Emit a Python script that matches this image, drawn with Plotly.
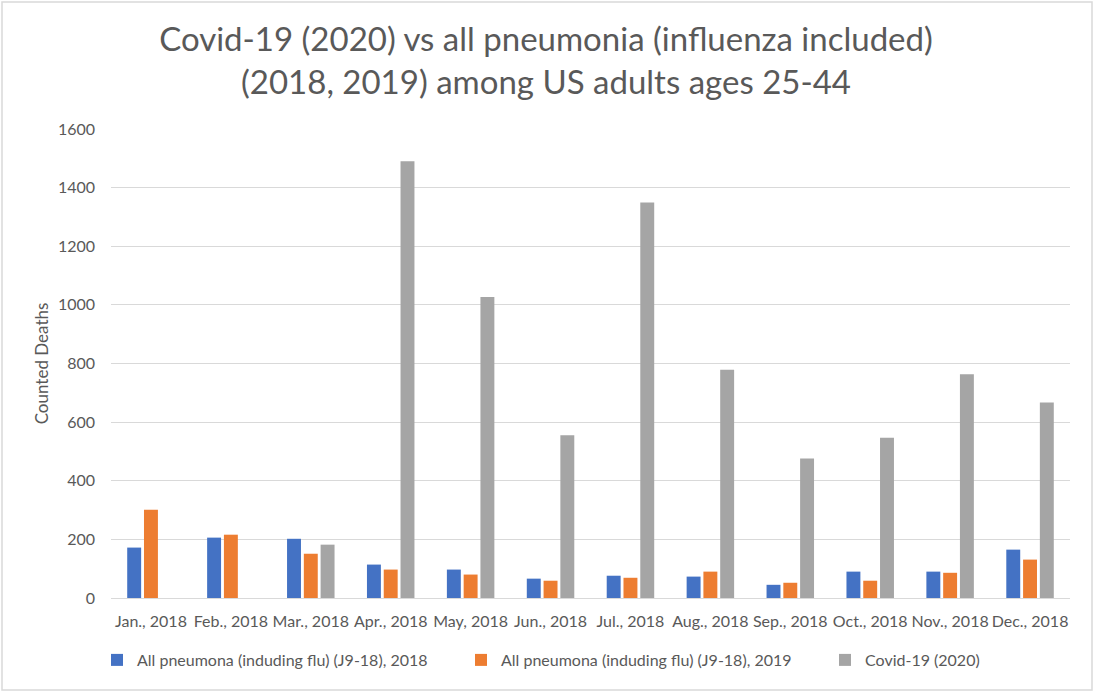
import plotly.graph_objects as go

months = ["Jan., 2018", "Feb., 2018", "Mar., 2018", "Apr., 2018", "May, 2018", "Jun., 2018",
          "Jul., 2018", "Aug., 2018", "Sep., 2018", "Oct., 2018", "Nov., 2018", "Dec., 2018"]
pneu_2018 = [172, 206, 202, 114, 97, 66, 76, 73, 45, 90, 90, 165]
pneu_2019 = [301, 216, 151, 97, 80, 59, 69, 90, 52, 59, 86, 131]
covid_2020 = [None, None, 182, 1490, 1027, 555, 1349, 779, 476, 547, 763, 667]

names = ["All pneumona (induding flu) (J9-18), 2018",
         "All pneumona (induding flu) (J9-18), 2019",
         "Covid-19 (2020)"]
colors = ["#4472C4", "#ED7D31", "#A5A5A5"]

# plot area in pixels (1094 x 692 page)
W, H = 1094, 692
L, R, T, B = 111, 24, 129, 94
pw, ph = W - L - R, H - T - B

def px_x(p):
    return (p - L) / pw

def px_y(p):
    return (H - B - p) / ph

legend_ids = ["legend", "legend2", "legend3"]
legend_x = [97, 461, 825]

fig = go.Figure()
for vals, nm, c, lg in zip([pneu_2018, pneu_2019, covid_2020], names, colors, legend_ids):
    fig.add_trace(go.Bar(x=months, y=vals, name=nm, legend=lg,
                         marker=dict(color=c, line=dict(width=0))))

font = "Lato, 'Open Sans', sans-serif"
grey = "#595959"
fig.update_layout(
    width=W, height=H,
    margin=dict(l=L, r=R, t=T, b=B),
    paper_bgcolor="white", plot_bgcolor="white",
    barmode="group", bargap=0.37, bargroupgap=0.17,
    font=dict(family=font, color=grey, size=16),
    title=dict(text="Covid-19 (2020) vs all pneumonia (influenza included)<br>(2018, 2019) among US adults ages 25-44",
               x=px_x(546), xanchor="center", xref="paper",
               y=1 - 51 / H, yanchor="middle",
               font=dict(size=33, color=grey, family=font)),
    xaxis=dict(showgrid=False, showline=False, ticks="", tickangle=0, ticklabelstandoff=12,
               tickfont=dict(size=16, color=grey)),
    yaxis=dict(range=[0, 1600], dtick=200, showgrid=True, gridcolor="#D9D9D9", gridwidth=1.3,
               zeroline=True, zerolinecolor="#D9D9D9", zerolinewidth=1.3,
               ticks="", ticklabelstandoff=15,
               tickfont=dict(size=16, color=grey),
               title=dict(text="Counted Deaths", standoff=4, font=dict(size=17, color=grey))),
    showlegend=True,
)
for lg, lx in zip(legend_ids, legend_x):
    fig.update_layout({lg: dict(orientation="h", x=px_x(lx), xanchor="left", y=px_y(660), yanchor="middle",
                                font=dict(size=16, color=grey), itemwidth=30, bgcolor="rgba(0,0,0,0)")})

# chart border
fig.add_shape(type="rect", xref="paper", yref="paper",
              x0=px_x(2), x1=px_x(1092), y0=px_y(690), y1=px_y(2),
              line=dict(color="#D9D9D9", width=1.5), fillcolor="rgba(0,0,0,0)")

fig.write_html("out.html", config={"displayModeBar": False},
               post_script="document.body.style.margin='0';")
